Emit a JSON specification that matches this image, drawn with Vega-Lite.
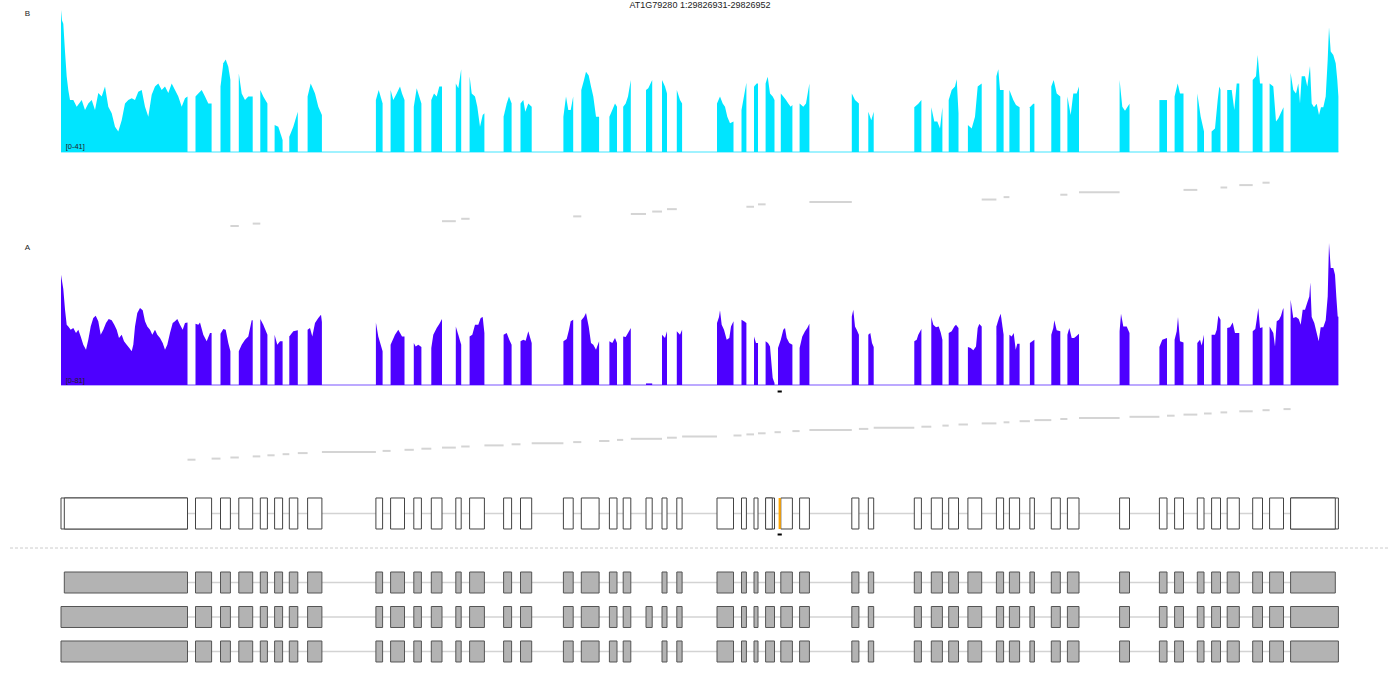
{
"$schema":"https://vega.github.io/schema/vega-lite/v6.json",
"padding":0,"spacing":0,"bounds":"flush","background":"white",
"config":{"view":{"stroke":null},"axis":{"disable":true},"legend":{"disable":true}},
"resolve":{"scale":{"x":"independent","y":"independent"}},
"datasets":{
"covB":[
{"ex":1,"pos":610,"cov":41},{"ex":1,"pos":620,"cov":38},{"ex":1,"pos":633,"cov":37},{"ex":1,"pos":650,"cov":29},{"ex":1,"pos":667,"cov":21.8},{"ex":1,"pos":683,"cov":17.9},{"ex":1,"pos":700,"cov":15},{"ex":1,"pos":733,"cov":15},{"ex":1,"pos":767,"cov":13.1},{"ex":1,"pos":817,"cov":15},{"ex":1,"pos":850,"cov":12.1},{"ex":1,"pos":883,"cov":14},{"ex":1,"pos":917,"cov":15},{"ex":1,"pos":950,"cov":12.1},{"ex":1,"pos":983,"cov":17},{"ex":1,"pos":1017,"cov":16},{"ex":1,"pos":1050,"cov":18.9},{"ex":1,"pos":1083,"cov":13.1},{"ex":1,"pos":1117,"cov":11.2},{"ex":1,"pos":1150,"cov":7.3},{"ex":1,"pos":1183,"cov":5.9},{"ex":1,"pos":1217,"cov":9.2},{"ex":1,"pos":1250,"cov":14},{"ex":1,"pos":1283,"cov":15},{"ex":1,"pos":1317,"cov":15.5},{"ex":1,"pos":1350,"cov":15},{"ex":1,"pos":1383,"cov":17.4},{"ex":1,"pos":1417,"cov":17.9},{"ex":1,"pos":1450,"cov":13.1},{"ex":1,"pos":1483,"cov":10.2},{"ex":1,"pos":1517,"cov":16.5},{"ex":1,"pos":1550,"cov":18.9},{"ex":1,"pos":1583,"cov":19.8},{"ex":1,"pos":1617,"cov":17.9},{"ex":1,"pos":1650,"cov":18.9},{"ex":1,"pos":1683,"cov":17},{"ex":1,"pos":1717,"cov":19.8},{"ex":1,"pos":1750,"cov":17.9},{"ex":1,"pos":1783,"cov":16},{"ex":1,"pos":1817,"cov":13.1},{"ex":1,"pos":1850,"cov":15.5},{"ex":1,"pos":1875,"cov":16},
{"ex":2,"pos":1955,"cov":16},{"ex":2,"pos":1983,"cov":16.9},{"ex":2,"pos":2017,"cov":17.9},{"ex":2,"pos":2050,"cov":16},{"ex":2,"pos":2083,"cov":14},{"ex":2,"pos":2116,"cov":14},
{"ex":3,"pos":2205,"cov":18.9},{"ex":3,"pos":2233,"cov":25.6},{"ex":3,"pos":2257,"cov":26.7},{"ex":3,"pos":2283,"cov":24.6},{"ex":3,"pos":2304,"cov":20.8},
{"ex":4,"pos":2388,"cov":22.7},{"ex":4,"pos":2417,"cov":16.9},{"ex":4,"pos":2450,"cov":15},{"ex":4,"pos":2483,"cov":16},{"ex":4,"pos":2527,"cov":16},
{"ex":5,"pos":2603,"cov":17.9},{"ex":5,"pos":2633,"cov":16},{"ex":5,"pos":2674,"cov":14},
{"ex":6,"pos":2746,"cov":7.8},{"ex":6,"pos":2783,"cov":7.3},{"ex":6,"pos":2826,"cov":3.5},
{"ex":7,"pos":2893,"cov":4.4},{"ex":7,"pos":2933,"cov":7.3},{"ex":7,"pos":2978,"cov":11.6},
{"ex":8,"pos":3076,"cov":16},{"ex":8,"pos":3107,"cov":19.8},{"ex":8,"pos":3150,"cov":16.9},{"ex":8,"pos":3183,"cov":13.1},{"ex":8,"pos":3219,"cov":10.7},
{"ex":9,"pos":3759,"cov":15},{"ex":9,"pos":3787,"cov":17.9},{"ex":9,"pos":3826,"cov":14},
{"ex":10,"pos":3906,"cov":17.9},{"ex":10,"pos":3933,"cov":15},{"ex":10,"pos":3967,"cov":16.9},{"ex":10,"pos":4000,"cov":18.9},{"ex":10,"pos":4020,"cov":16.9},{"ex":10,"pos":4045,"cov":15},
{"ex":11,"pos":4138,"cov":13.1},{"ex":11,"pos":4167,"cov":18.4},{"ex":11,"pos":4183,"cov":16.9},{"ex":11,"pos":4214,"cov":14},
{"ex":12,"pos":4313,"cov":15},{"ex":12,"pos":4340,"cov":16.9},{"ex":12,"pos":4367,"cov":16},{"ex":12,"pos":4393,"cov":18.9},{"ex":12,"pos":4420,"cov":18.9},
{"ex":13,"pos":4558,"cov":19.8},{"ex":13,"pos":4583,"cov":18.4},{"ex":13,"pos":4612,"cov":23.9},
{"ex":14,"pos":4696,"cov":21.9},{"ex":14,"pos":4717,"cov":16.9},{"ex":14,"pos":4750,"cov":16},{"ex":14,"pos":4773,"cov":13.1},{"ex":14,"pos":4800,"cov":7.3},{"ex":14,"pos":4827,"cov":10.7},{"ex":14,"pos":4844,"cov":11.2},
{"ex":15,"pos":5036,"cov":10.2},{"ex":15,"pos":5067,"cov":14},{"ex":15,"pos":5090,"cov":16},{"ex":15,"pos":5116,"cov":14},
{"ex":16,"pos":5205,"cov":14},{"ex":16,"pos":5233,"cov":15},{"ex":16,"pos":5253,"cov":11.6},{"ex":16,"pos":5283,"cov":14},{"ex":16,"pos":5317,"cov":13.1},
{"ex":17,"pos":5634,"cov":10.2},{"ex":17,"pos":5660,"cov":16},{"ex":17,"pos":5683,"cov":12.1},{"ex":17,"pos":5707,"cov":12.1},{"ex":17,"pos":5732,"cov":16},
{"ex":18,"pos":5813,"cov":17.9},{"ex":18,"pos":5840,"cov":20.8},{"ex":18,"pos":5860,"cov":23.2},{"ex":18,"pos":5887,"cov":22.1},{"ex":18,"pos":5910,"cov":18.9},{"ex":18,"pos":5933,"cov":16},{"ex":18,"pos":5960,"cov":10.2},{"ex":18,"pos":5991,"cov":10.2},
{"ex":19,"pos":6094,"cov":10.2},{"ex":19,"pos":6123,"cov":12.1},{"ex":19,"pos":6150,"cov":14},{"ex":19,"pos":6170,"cov":13.1},
{"ex":20,"pos":6232,"cov":13.1},{"ex":20,"pos":6257,"cov":14},{"ex":20,"pos":6280,"cov":16},{"ex":20,"pos":6308,"cov":20.8},
{"ex":21,"pos":6460,"cov":17.9},{"ex":21,"pos":6483,"cov":18.4},{"ex":21,"pos":6522,"cov":20.8},
{"ex":22,"pos":6620,"cov":20.8},{"ex":22,"pos":6650,"cov":18.9},{"ex":22,"pos":6670,"cov":16.9},
{"ex":23,"pos":6768,"cov":17.9},{"ex":23,"pos":6800,"cov":15},{"ex":23,"pos":6821,"cov":14},
{"ex":24,"pos":7170,"cov":14},{"ex":24,"pos":7200,"cov":16},{"ex":24,"pos":7227,"cov":14},{"ex":24,"pos":7250,"cov":13.1},{"ex":24,"pos":7273,"cov":10.2},{"ex":24,"pos":7300,"cov":8.3},{"ex":24,"pos":7335,"cov":8.8},
{"ex":25,"pos":7415,"cov":12.1},{"ex":25,"pos":7433,"cov":15},{"ex":25,"pos":7464,"cov":20},
{"ex":26,"pos":7540,"cov":18.9},{"ex":26,"pos":7567,"cov":19.8},{"ex":26,"pos":7580,"cov":19.8},
{"ex":27,"pos":7656,"cov":19.8},{"ex":27,"pos":7677,"cov":21.7},{"ex":27,"pos":7700,"cov":16.9},{"ex":27,"pos":7727,"cov":16},{"ex":27,"pos":7745,"cov":15},
{"ex":28,"pos":7808,"cov":16.9},{"ex":28,"pos":7833,"cov":16},{"ex":28,"pos":7860,"cov":15},{"ex":28,"pos":7883,"cov":14},{"ex":28,"pos":7907,"cov":13.1},{"ex":28,"pos":7924,"cov":13.6},
{"ex":29,"pos":7996,"cov":14},{"ex":29,"pos":8033,"cov":13.1},{"ex":29,"pos":8060,"cov":14},{"ex":29,"pos":8094,"cov":19.8},
{"ex":30,"pos":8518,"cov":16.9},{"ex":30,"pos":8550,"cov":15},{"ex":30,"pos":8589,"cov":14},
{"ex":31,"pos":8683,"cov":11.6},{"ex":31,"pos":8713,"cov":9.2},{"ex":31,"pos":8737,"cov":11.6},
{"ex":32,"pos":9143,"cov":12.9},{"ex":32,"pos":9183,"cov":13.9},{"ex":32,"pos":9214,"cov":15},
{"ex":33,"pos":9313,"cov":12.9},{"ex":33,"pos":9343,"cov":8.8},{"ex":33,"pos":9373,"cov":8.8},{"ex":33,"pos":9400,"cov":6.8},{"ex":33,"pos":9424,"cov":12.9},
{"ex":34,"pos":9487,"cov":15},{"ex":34,"pos":9517,"cov":17.9},{"ex":34,"pos":9550,"cov":18.9},{"ex":34,"pos":9567,"cov":21},{"ex":34,"pos":9585,"cov":11.2},
{"ex":35,"pos":9679,"cov":7.8},{"ex":35,"pos":9717,"cov":6.8},{"ex":35,"pos":9750,"cov":10.2},{"ex":35,"pos":9777,"cov":18.9},{"ex":35,"pos":9817,"cov":19.8},
{"ex":36,"pos":9964,"cov":21.9},{"ex":36,"pos":9983,"cov":23.9},{"ex":36,"pos":10000,"cov":17.9},{"ex":36,"pos":10036,"cov":17.9},
{"ex":37,"pos":10094,"cov":17.9},{"ex":37,"pos":10133,"cov":15},{"ex":37,"pos":10160,"cov":13.6},{"ex":37,"pos":10196,"cov":12.9},
{"ex":38,"pos":10299,"cov":12.9},{"ex":38,"pos":10333,"cov":13.9},{"ex":38,"pos":10344,"cov":13.9},
{"ex":39,"pos":10513,"cov":18.9},{"ex":39,"pos":10537,"cov":20.8},{"ex":39,"pos":10567,"cov":16.9},{"ex":39,"pos":10603,"cov":16},
{"ex":40,"pos":10674,"cov":16},{"ex":40,"pos":10707,"cov":10.7},{"ex":40,"pos":10733,"cov":16.9},{"ex":40,"pos":10767,"cov":16.9},{"ex":40,"pos":10790,"cov":18.9},
{"ex":41,"pos":11196,"cov":20.8},{"ex":41,"pos":11223,"cov":13.1},{"ex":41,"pos":11250,"cov":11.9},{"ex":41,"pos":11295,"cov":13.9},
{"ex":42,"pos":11594,"cov":15},{"ex":42,"pos":11630,"cov":15},{"ex":42,"pos":11670,"cov":15},
{"ex":43,"pos":11746,"cov":16},{"ex":43,"pos":11777,"cov":19.8},{"ex":43,"pos":11800,"cov":16.9},{"ex":43,"pos":11835,"cov":16.9},
{"ex":44,"pos":11973,"cov":16.9},{"ex":44,"pos":12007,"cov":10.2},{"ex":44,"pos":12040,"cov":5.9},
{"ex":45,"pos":12116,"cov":5.9},{"ex":45,"pos":12150,"cov":6.8},{"ex":45,"pos":12177,"cov":15},{"ex":45,"pos":12193,"cov":18.9},{"ex":45,"pos":12205,"cov":18},
{"ex":46,"pos":12272,"cov":17.9},{"ex":46,"pos":12317,"cov":17.9},{"ex":46,"pos":12343,"cov":12.1},{"ex":46,"pos":12367,"cov":19.8},{"ex":46,"pos":12393,"cov":19.8},
{"ex":47,"pos":12527,"cov":20.8},{"ex":47,"pos":12560,"cov":21.9},{"ex":47,"pos":12577,"cov":28},{"ex":47,"pos":12600,"cov":19.8},{"ex":47,"pos":12625,"cov":19.8},
{"ex":48,"pos":12696,"cov":19.8},{"ex":48,"pos":12733,"cov":18.9},{"ex":48,"pos":12760,"cov":8.8},{"ex":48,"pos":12783,"cov":9.7},{"ex":48,"pos":12807,"cov":11.2},{"ex":48,"pos":12835,"cov":12.9},
{"ex":49,"pos":12906,"cov":22.9},{"ex":49,"pos":12933,"cov":17.9},{"ex":49,"pos":12960,"cov":16.9},{"ex":49,"pos":12983,"cov":19.8},{"ex":49,"pos":13000,"cov":14},{"ex":49,"pos":13017,"cov":21.9},{"ex":49,"pos":13050,"cov":21.9},{"ex":49,"pos":13073,"cov":18.9},{"ex":49,"pos":13100,"cov":24.8},{"ex":49,"pos":13117,"cov":14},{"ex":49,"pos":13140,"cov":12.9},{"ex":49,"pos":13167,"cov":13.9},{"ex":49,"pos":13190,"cov":10.7},{"ex":49,"pos":13210,"cov":12.9},{"ex":49,"pos":13233,"cov":12.9},{"ex":49,"pos":13257,"cov":16},{"ex":49,"pos":13277,"cov":26.6},{"ex":49,"pos":13290,"cov":36},{"ex":49,"pos":13307,"cov":29},{"ex":49,"pos":13333,"cov":28},{"ex":49,"pos":13357,"cov":25.6},{"ex":49,"pos":13373,"cov":20.8},{"ex":49,"pos":13384,"cov":16}
],
"covA":[
{"ex":1,"pos":610,"cov":62.9},{"ex":1,"pos":633,"cov":54.7},{"ex":1,"pos":650,"cov":43},{"ex":1,"pos":667,"cov":34.4},{"ex":1,"pos":683,"cov":33.4},{"ex":1,"pos":707,"cov":31.5},{"ex":1,"pos":733,"cov":32.5},{"ex":1,"pos":760,"cov":29.6},{"ex":1,"pos":783,"cov":31.5},{"ex":1,"pos":807,"cov":27.7},{"ex":1,"pos":833,"cov":23},{"ex":1,"pos":860,"cov":20.1},{"ex":1,"pos":883,"cov":25.8},{"ex":1,"pos":907,"cov":33.4},{"ex":1,"pos":933,"cov":38.2},{"ex":1,"pos":957,"cov":39.5},{"ex":1,"pos":983,"cov":36.3},{"ex":1,"pos":1007,"cov":28.7},{"ex":1,"pos":1033,"cov":31.5},{"ex":1,"pos":1060,"cov":35.3},{"ex":1,"pos":1087,"cov":37.6},{"ex":1,"pos":1117,"cov":36.9},{"ex":1,"pos":1143,"cov":34.4},{"ex":1,"pos":1167,"cov":31.5},{"ex":1,"pos":1190,"cov":26.8},{"ex":1,"pos":1217,"cov":28.7},{"ex":1,"pos":1240,"cov":24.9},{"ex":1,"pos":1267,"cov":23},{"ex":1,"pos":1293,"cov":21.1},{"ex":1,"pos":1317,"cov":19.2},{"ex":1,"pos":1333,"cov":23},{"ex":1,"pos":1350,"cov":33.4},{"ex":1,"pos":1373,"cov":41},{"ex":1,"pos":1400,"cov":43.9},{"ex":1,"pos":1427,"cov":42.6},{"ex":1,"pos":1450,"cov":36.3},{"ex":1,"pos":1473,"cov":33.4},{"ex":1,"pos":1500,"cov":31.5},{"ex":1,"pos":1523,"cov":28.7},{"ex":1,"pos":1550,"cov":31.5},{"ex":1,"pos":1573,"cov":28.7},{"ex":1,"pos":1600,"cov":26.8},{"ex":1,"pos":1627,"cov":23.9},{"ex":1,"pos":1650,"cov":20.1},{"ex":1,"pos":1673,"cov":23},{"ex":1,"pos":1700,"cov":29.6},{"ex":1,"pos":1727,"cov":35.3},{"ex":1,"pos":1750,"cov":36.3},{"ex":1,"pos":1773,"cov":37.6},{"ex":1,"pos":1800,"cov":34.4},{"ex":1,"pos":1827,"cov":31.5},{"ex":1,"pos":1850,"cov":35.3},{"ex":1,"pos":1875,"cov":35.7},
{"ex":2,"pos":1955,"cov":35},{"ex":2,"pos":1983,"cov":34.4},{"ex":2,"pos":2000,"cov":35.7},{"ex":2,"pos":2033,"cov":28.7},{"ex":2,"pos":2067,"cov":24.9},{"ex":2,"pos":2100,"cov":29.6},{"ex":2,"pos":2116,"cov":29.6},
{"ex":3,"pos":2205,"cov":29.3},{"ex":3,"pos":2233,"cov":31.9},{"ex":3,"pos":2257,"cov":31.5},{"ex":3,"pos":2283,"cov":23.9},{"ex":3,"pos":2304,"cov":19.2},
{"ex":4,"pos":2388,"cov":19.2},{"ex":4,"pos":2417,"cov":23},{"ex":4,"pos":2450,"cov":25.8},{"ex":4,"pos":2483,"cov":27.7},{"ex":4,"pos":2517,"cov":36.9},{"ex":4,"pos":2527,"cov":36.9},
{"ex":5,"pos":2603,"cov":37.6},{"ex":5,"pos":2633,"cov":34.4},{"ex":5,"pos":2674,"cov":28.7},
{"ex":6,"pos":2746,"cov":28.7},{"ex":6,"pos":2773,"cov":23},{"ex":6,"pos":2800,"cov":24.9},{"ex":6,"pos":2826,"cov":24.9},
{"ex":7,"pos":2893,"cov":27.7},{"ex":7,"pos":2933,"cov":30.6},{"ex":7,"pos":2978,"cov":31.2},
{"ex":8,"pos":3076,"cov":31.5},{"ex":8,"pos":3100,"cov":32.5},{"ex":8,"pos":3123,"cov":27.7},{"ex":8,"pos":3150,"cov":35.3},{"ex":8,"pos":3183,"cov":38.2},{"ex":8,"pos":3210,"cov":40.1},{"ex":8,"pos":3219,"cov":36},
{"ex":9,"pos":3759,"cov":35.7},{"ex":9,"pos":3783,"cov":27.7},{"ex":9,"pos":3826,"cov":19.2},
{"ex":10,"pos":3906,"cov":23},{"ex":10,"pos":3950,"cov":28.7},{"ex":10,"pos":3983,"cov":31.5},{"ex":10,"pos":4020,"cov":27.7},{"ex":10,"pos":4045,"cov":27.7},
{"ex":11,"pos":4138,"cov":23.9},{"ex":11,"pos":4157,"cov":22},{"ex":11,"pos":4183,"cov":23},{"ex":11,"pos":4214,"cov":21.7},
{"ex":12,"pos":4313,"cov":21.1},{"ex":12,"pos":4333,"cov":28.7},{"ex":12,"pos":4367,"cov":32.5},{"ex":12,"pos":4393,"cov":34.8},{"ex":12,"pos":4420,"cov":37.6},
{"ex":13,"pos":4558,"cov":33.4},{"ex":13,"pos":4583,"cov":28.7},{"ex":13,"pos":4612,"cov":23},
{"ex":14,"pos":4696,"cov":27.7},{"ex":14,"pos":4723,"cov":28.7},{"ex":14,"pos":4750,"cov":34.4},{"ex":14,"pos":4783,"cov":34.4},{"ex":14,"pos":4807,"cov":38.2},{"ex":14,"pos":4827,"cov":38.8},{"ex":14,"pos":4844,"cov":29.6},
{"ex":15,"pos":5036,"cov":28.7},{"ex":15,"pos":5067,"cov":29.6},{"ex":15,"pos":5093,"cov":25.8},{"ex":15,"pos":5116,"cov":23},
{"ex":16,"pos":5205,"cov":24.9},{"ex":16,"pos":5233,"cov":25.8},{"ex":16,"pos":5257,"cov":25.2},{"ex":16,"pos":5283,"cov":30.6},{"ex":16,"pos":5317,"cov":23.9},
{"ex":17,"pos":5634,"cov":24.9},{"ex":17,"pos":5667,"cov":26.2},{"ex":17,"pos":5690,"cov":31.5},{"ex":17,"pos":5707,"cov":36.3},{"ex":17,"pos":5732,"cov":37.2},
{"ex":18,"pos":5813,"cov":36.9},{"ex":18,"pos":5840,"cov":38.8},{"ex":18,"pos":5860,"cov":41},{"ex":18,"pos":5887,"cov":33.4},{"ex":18,"pos":5910,"cov":23.9},{"ex":18,"pos":5933,"cov":23},{"ex":18,"pos":5960,"cov":20.1},{"ex":18,"pos":5991,"cov":24.9},
{"ex":19,"pos":6094,"cov":24.9},{"ex":19,"pos":6123,"cov":23.9},{"ex":19,"pos":6150,"cov":26.8},{"ex":19,"pos":6170,"cov":23.9},
{"ex":20,"pos":6232,"cov":27.7},{"ex":20,"pos":6257,"cov":27.4},{"ex":20,"pos":6280,"cov":29.6},{"ex":20,"pos":6308,"cov":32.5},
{"ex":21,"pos":6460,"cov":0.9},{"ex":21,"pos":6522,"cov":0.9},
{"ex":22,"pos":6620,"cov":28.7},{"ex":22,"pos":6650,"cov":26.8},{"ex":22,"pos":6670,"cov":30.6},
{"ex":23,"pos":6768,"cov":30.6},{"ex":23,"pos":6800,"cov":28.7},{"ex":23,"pos":6821,"cov":31.5},
{"ex":24,"pos":7170,"cov":35.3},{"ex":24,"pos":7190,"cov":38.8},{"ex":24,"pos":7200,"cov":42.6},{"ex":24,"pos":7217,"cov":34.4},{"ex":24,"pos":7240,"cov":31.5},{"ex":24,"pos":7267,"cov":25.8},{"ex":24,"pos":7293,"cov":26.8},{"ex":24,"pos":7310,"cov":33.4},{"ex":24,"pos":7335,"cov":36.3},
{"ex":25,"pos":7415,"cov":37.2},{"ex":25,"pos":7440,"cov":36.3},{"ex":25,"pos":7464,"cov":35.3},
{"ex":26,"pos":7540,"cov":27.7},{"ex":26,"pos":7560,"cov":23.9},{"ex":26,"pos":7580,"cov":23.9},
{"ex":27,"pos":7656,"cov":24.9},{"ex":27,"pos":7680,"cov":23.9},{"ex":27,"pos":7700,"cov":22},{"ex":27,"pos":7727,"cov":4},{"ex":27,"pos":7745,"cov":1.1},
{"ex":28,"pos":7780,"cov":21.1},{"ex":28,"pos":7808,"cov":25.8},{"ex":28,"pos":7833,"cov":31.5},{"ex":28,"pos":7850,"cov":32.5},{"ex":28,"pos":7867,"cov":26.8},{"ex":28,"pos":7893,"cov":23.9},{"ex":28,"pos":7924,"cov":23},
{"ex":29,"pos":7996,"cov":21.1},{"ex":29,"pos":8023,"cov":27.7},{"ex":29,"pos":8050,"cov":30.6},{"ex":29,"pos":8073,"cov":32.5},{"ex":29,"pos":8094,"cov":35},
{"ex":30,"pos":8518,"cov":39.1},{"ex":30,"pos":8533,"cov":42.9},{"ex":30,"pos":8550,"cov":33.4},{"ex":30,"pos":8567,"cov":31.5},{"ex":30,"pos":8589,"cov":28.7},
{"ex":31,"pos":8683,"cov":28.7},{"ex":31,"pos":8703,"cov":29.6},{"ex":31,"pos":8720,"cov":23.9},{"ex":31,"pos":8737,"cov":21.7},
{"ex":32,"pos":9143,"cov":24.9},{"ex":32,"pos":9167,"cov":25.8},{"ex":32,"pos":9183,"cov":28.7},{"ex":32,"pos":9214,"cov":31.9},
{"ex":33,"pos":9313,"cov":38.8},{"ex":33,"pos":9333,"cov":34.4},{"ex":33,"pos":9360,"cov":33},{"ex":33,"pos":9387,"cov":33.4},{"ex":33,"pos":9407,"cov":30},{"ex":33,"pos":9424,"cov":25.8},
{"ex":34,"pos":9487,"cov":29.6},{"ex":34,"pos":9517,"cov":30.6},{"ex":34,"pos":9543,"cov":33.4},{"ex":34,"pos":9560,"cov":34.4},{"ex":34,"pos":9585,"cov":32.5},
{"ex":35,"pos":9679,"cov":21.7},{"ex":35,"pos":9707,"cov":21.1},{"ex":35,"pos":9733,"cov":19.8},{"ex":35,"pos":9760,"cov":22},{"ex":35,"pos":9777,"cov":32.5},{"ex":35,"pos":9793,"cov":34.8},{"ex":35,"pos":9817,"cov":33.4},
{"ex":36,"pos":9964,"cov":33.4},{"ex":36,"pos":9990,"cov":38.2},{"ex":36,"pos":10007,"cov":40.7},{"ex":36,"pos":10036,"cov":28.7},
{"ex":37,"pos":10094,"cov":28.7},{"ex":37,"pos":10117,"cov":27.7},{"ex":37,"pos":10137,"cov":29.6},{"ex":37,"pos":10157,"cov":20.1},{"ex":37,"pos":10173,"cov":23.6},{"ex":37,"pos":10196,"cov":23.6},
{"ex":38,"pos":10299,"cov":23.9},{"ex":38,"pos":10323,"cov":24.9},{"ex":38,"pos":10344,"cov":25.8},
{"ex":39,"pos":10513,"cov":28.7},{"ex":39,"pos":10533,"cov":32.5},{"ex":39,"pos":10543,"cov":36.9},{"ex":39,"pos":10567,"cov":31.2},{"ex":39,"pos":10603,"cov":30.6},
{"ex":40,"pos":10674,"cov":28.7},{"ex":40,"pos":10693,"cov":32.5},{"ex":40,"pos":10717,"cov":26.8},{"ex":40,"pos":10740,"cov":26.8},{"ex":40,"pos":10760,"cov":27.7},{"ex":40,"pos":10790,"cov":29.3},
{"ex":41,"pos":11196,"cov":30.6},{"ex":41,"pos":11210,"cov":40.7},{"ex":41,"pos":11233,"cov":33.4},{"ex":41,"pos":11267,"cov":33.4},{"ex":41,"pos":11295,"cov":29.6},
{"ex":42,"pos":11594,"cov":21.7},{"ex":42,"pos":11623,"cov":25.8},{"ex":42,"pos":11670,"cov":26.8},
{"ex":43,"pos":11746,"cov":25.8},{"ex":43,"pos":11767,"cov":30.6},{"ex":43,"pos":11780,"cov":38.8},{"ex":43,"pos":11800,"cov":24.9},{"ex":43,"pos":11835,"cov":24.3},
{"ex":44,"pos":11973,"cov":23.9},{"ex":44,"pos":12000,"cov":25.8},{"ex":44,"pos":12017,"cov":22.6},{"ex":44,"pos":12040,"cov":28.7},
{"ex":45,"pos":12116,"cov":28.7},{"ex":45,"pos":12150,"cov":28.7},{"ex":45,"pos":12167,"cov":31.5},{"ex":45,"pos":12183,"cov":39.5},{"ex":45,"pos":12205,"cov":37.2},
{"ex":46,"pos":12272,"cov":32.5},{"ex":46,"pos":12300,"cov":33},{"ex":46,"pos":12327,"cov":35.7},{"ex":46,"pos":12350,"cov":29.6},{"ex":46,"pos":12393,"cov":29.6},
{"ex":47,"pos":12527,"cov":30.6},{"ex":47,"pos":12553,"cov":31.9},{"ex":47,"pos":12567,"cov":37.2},{"ex":47,"pos":12583,"cov":43.9},{"ex":47,"pos":12600,"cov":32.5},{"ex":47,"pos":12625,"cov":33},
{"ex":48,"pos":12696,"cov":33.4},{"ex":48,"pos":12733,"cov":29.6},{"ex":48,"pos":12750,"cov":22},{"ex":48,"pos":12767,"cov":36.3},{"ex":48,"pos":12790,"cov":37.2},{"ex":48,"pos":12810,"cov":39.5},{"ex":48,"pos":12827,"cov":42.9},{"ex":48,"pos":12835,"cov":43.9},
{"ex":49,"pos":12906,"cov":48.6},{"ex":49,"pos":12933,"cov":38.2},{"ex":49,"pos":12960,"cov":38.8},{"ex":49,"pos":12987,"cov":37.6},{"ex":49,"pos":13007,"cov":34.4},{"ex":49,"pos":13027,"cov":42.9},{"ex":49,"pos":13050,"cov":42.9},{"ex":49,"pos":13073,"cov":47.1},{"ex":49,"pos":13093,"cov":50.5},{"ex":49,"pos":13103,"cov":58.5},{"ex":49,"pos":13117,"cov":38.8},{"ex":49,"pos":13143,"cov":35.3},{"ex":49,"pos":13167,"cov":29.6},{"ex":49,"pos":13187,"cov":24.9},{"ex":49,"pos":13207,"cov":33},{"ex":49,"pos":13233,"cov":33},{"ex":49,"pos":13257,"cov":36.9},{"ex":49,"pos":13277,"cov":50.5},{"ex":49,"pos":13290,"cov":81},{"ex":49,"pos":13307,"cov":66.7},{"ex":49,"pos":13333,"cov":66.7},{"ex":49,"pos":13350,"cov":62.9},{"ex":49,"pos":13363,"cov":50.5},{"ex":49,"pos":13377,"cov":39.1},{"ex":49,"pos":13384,"cov":39}
],
"jB":[
{"row":1,"s":2304,"e":2388},{"row":2,"s":2527,"e":2603},{"row":3,"s":4420,"e":4558},{"row":4,"s":4612,"e":4696},{"row":5,"s":5732,"e":5813},{"row":6,"s":6308,"e":6460},{"row":7,"s":6522,"e":6620},{"row":8,"s":6670,"e":6768},{"row":9,"s":7464,"e":7540},{"row":10,"s":7580,"e":7656},{"row":11,"s":8094,"e":8518},{"row":12,"s":9817,"e":9964},{"row":13,"s":10036,"e":10094},{"row":14,"s":10603,"e":10674},{"row":15,"s":10790,"e":11196},{"row":16,"s":11835,"e":11973},{"row":17,"s":12205,"e":12272},{"row":18,"s":12393,"e":12527},{"row":19,"s":12625,"e":12696}
],
"jA":[
{"row":1,"s":1875,"e":1955},{"row":2,"s":2116,"e":2205},{"row":3,"s":2304,"e":2388},{"row":4,"s":2527,"e":2603},{"row":5,"s":2674,"e":2746},{"row":6,"s":2826,"e":2893},{"row":7,"s":2978,"e":3076},{"row":8,"s":3219,"e":3759},{"row":9,"s":3826,"e":3906},{"row":10,"s":4045,"e":4138},{"row":11,"s":4214,"e":4313},{"row":12,"s":4420,"e":4558},{"row":13,"s":4612,"e":4696},{"row":14,"s":4844,"e":5036},{"row":15,"s":5116,"e":5205},{"row":16,"s":5317,"e":5634},{"row":17,"s":5732,"e":5813},{"row":18,"s":5991,"e":6094},{"row":19,"s":6170,"e":6232},{"row":20,"s":6308,"e":6620},{"row":21,"s":6670,"e":6768},{"row":22,"s":6821,"e":7170},{"row":23,"s":7335,"e":7415},{"row":24,"s":7464,"e":7540},{"row":25,"s":7580,"e":7656},{"row":26,"s":7745,"e":7808},{"row":27,"s":7924,"e":7996},{"row":28,"s":8094,"e":8518},{"row":29,"s":8589,"e":8683},{"row":30,"s":8737,"e":9143},{"row":31,"s":9214,"e":9313},{"row":32,"s":9424,"e":9487},{"row":33,"s":9585,"e":9679},{"row":34,"s":9817,"e":9964},{"row":35,"s":10036,"e":10094},{"row":36,"s":10196,"e":10299},{"row":37,"s":10344,"e":10513},{"row":38,"s":10603,"e":10674},{"row":39,"s":10790,"e":11196},{"row":40,"s":11295,"e":11594},{"row":41,"s":11670,"e":11746},{"row":42,"s":11835,"e":11973},{"row":43,"s":12040,"e":12116},{"row":44,"s":12205,"e":12272},{"row":45,"s":12393,"e":12527},{"row":46,"s":12625,"e":12696},{"row":47,"s":12835,"e":12906}
],
"gene":[
{"s":610,"e":1875},{"s":643,"e":1875},{"s":1955,"e":2116},{"s":2205,"e":2304},{"s":2388,"e":2527},{"s":2603,"e":2674},{"s":2746,"e":2826},{"s":2893,"e":2978},{"s":3076,"e":3219},{"s":3759,"e":3826},{"s":3906,"e":4045},{"s":4138,"e":4214},{"s":4313,"e":4420},{"s":4558,"e":4612},{"s":4696,"e":4844},{"s":5036,"e":5116},{"s":5205,"e":5317},{"s":5634,"e":5732},{"s":5813,"e":5991},{"s":6094,"e":6170},{"s":6232,"e":6308},{"s":6460,"e":6522},{"s":6620,"e":6670},{"s":6768,"e":6821},{"s":7170,"e":7335},{"s":7415,"e":7464},{"s":7540,"e":7580},{"s":7656,"e":7745},{"s":7656,"e":7723},{"s":7808,"e":7924},{"s":7996,"e":8094},{"s":8518,"e":8589},{"s":8683,"e":8737},{"s":9143,"e":9214},{"s":9313,"e":9424},{"s":9487,"e":9585},{"s":9679,"e":9817},{"s":9964,"e":10036},{"s":10094,"e":10196},{"s":10299,"e":10344},{"s":10513,"e":10603},{"s":10674,"e":10790},{"s":11196,"e":11295},{"s":11594,"e":11670},{"s":11746,"e":11835},{"s":11973,"e":12040},{"s":12116,"e":12205},{"s":12272,"e":12393},{"s":12527,"e":12625},{"s":12696,"e":12835},{"s":12906,"e":13384},{"s":12906,"e":13353}
],
"tx":[
{"tx":"t1","s":643,"e":1875},{"tx":"t1","s":1955,"e":2116},{"tx":"t1","s":2205,"e":2304},{"tx":"t1","s":2388,"e":2527},{"tx":"t1","s":2603,"e":2674},{"tx":"t1","s":2746,"e":2826},{"tx":"t1","s":2893,"e":2978},{"tx":"t1","s":3076,"e":3219},{"tx":"t1","s":3759,"e":3826},{"tx":"t1","s":3906,"e":4045},{"tx":"t1","s":4138,"e":4214},{"tx":"t1","s":4313,"e":4420},{"tx":"t1","s":4558,"e":4612},{"tx":"t1","s":4696,"e":4844},{"tx":"t1","s":5036,"e":5116},{"tx":"t1","s":5205,"e":5317},{"tx":"t1","s":5634,"e":5732},{"tx":"t1","s":5813,"e":5991},{"tx":"t1","s":6094,"e":6170},{"tx":"t1","s":6232,"e":6308},{"tx":"t1","s":6620,"e":6670},{"tx":"t1","s":6768,"e":6821},{"tx":"t1","s":7170,"e":7335},{"tx":"t1","s":7415,"e":7464},{"tx":"t1","s":7540,"e":7580},{"tx":"t1","s":7656,"e":7745},{"tx":"t1","s":7808,"e":7924},{"tx":"t1","s":7996,"e":8094},{"tx":"t1","s":8518,"e":8589},{"tx":"t1","s":8683,"e":8737},{"tx":"t1","s":9143,"e":9214},{"tx":"t1","s":9313,"e":9424},{"tx":"t1","s":9487,"e":9585},{"tx":"t1","s":9679,"e":9817},{"tx":"t1","s":9964,"e":10036},{"tx":"t1","s":10094,"e":10196},{"tx":"t1","s":10299,"e":10344},{"tx":"t1","s":10513,"e":10603},{"tx":"t1","s":10674,"e":10790},{"tx":"t1","s":11196,"e":11295},{"tx":"t1","s":11594,"e":11670},{"tx":"t1","s":11746,"e":11835},{"tx":"t1","s":11973,"e":12040},{"tx":"t1","s":12116,"e":12205},{"tx":"t1","s":12272,"e":12393},{"tx":"t1","s":12527,"e":12625},{"tx":"t1","s":12696,"e":12835},{"tx":"t1","s":12906,"e":13353},
{"tx":"t2","s":610,"e":1875},{"tx":"t2","s":1955,"e":2116},{"tx":"t2","s":2205,"e":2304},{"tx":"t2","s":2388,"e":2527},{"tx":"t2","s":2603,"e":2674},{"tx":"t2","s":2746,"e":2826},{"tx":"t2","s":2893,"e":2978},{"tx":"t2","s":3076,"e":3219},{"tx":"t2","s":3759,"e":3826},{"tx":"t2","s":3906,"e":4045},{"tx":"t2","s":4138,"e":4214},{"tx":"t2","s":4313,"e":4420},{"tx":"t2","s":4558,"e":4612},{"tx":"t2","s":4696,"e":4844},{"tx":"t2","s":5036,"e":5116},{"tx":"t2","s":5205,"e":5317},{"tx":"t2","s":5634,"e":5732},{"tx":"t2","s":5813,"e":5991},{"tx":"t2","s":6094,"e":6170},{"tx":"t2","s":6232,"e":6308},{"tx":"t2","s":6460,"e":6522},{"tx":"t2","s":6620,"e":6670},{"tx":"t2","s":6768,"e":6821},{"tx":"t2","s":7170,"e":7335},{"tx":"t2","s":7415,"e":7464},{"tx":"t2","s":7540,"e":7580},{"tx":"t2","s":7656,"e":7745},{"tx":"t2","s":7808,"e":7924},{"tx":"t2","s":7996,"e":8094},{"tx":"t2","s":8518,"e":8589},{"tx":"t2","s":8683,"e":8737},{"tx":"t2","s":9143,"e":9214},{"tx":"t2","s":9313,"e":9424},{"tx":"t2","s":9487,"e":9585},{"tx":"t2","s":9679,"e":9817},{"tx":"t2","s":9964,"e":10036},{"tx":"t2","s":10094,"e":10196},{"tx":"t2","s":10299,"e":10344},{"tx":"t2","s":10513,"e":10603},{"tx":"t2","s":10674,"e":10790},{"tx":"t2","s":11196,"e":11295},{"tx":"t2","s":11594,"e":11670},{"tx":"t2","s":11746,"e":11835},{"tx":"t2","s":11973,"e":12040},{"tx":"t2","s":12116,"e":12205},{"tx":"t2","s":12272,"e":12393},{"tx":"t2","s":12527,"e":12625},{"tx":"t2","s":12696,"e":12835},{"tx":"t2","s":12906,"e":13384},
{"tx":"t3","s":610,"e":1875},{"tx":"t3","s":1955,"e":2116},{"tx":"t3","s":2205,"e":2304},{"tx":"t3","s":2388,"e":2527},{"tx":"t3","s":2603,"e":2674},{"tx":"t3","s":2746,"e":2826},{"tx":"t3","s":2893,"e":2978},{"tx":"t3","s":3076,"e":3219},{"tx":"t3","s":3759,"e":3826},{"tx":"t3","s":3906,"e":4045},{"tx":"t3","s":4138,"e":4214},{"tx":"t3","s":4313,"e":4420},{"tx":"t3","s":4558,"e":4612},{"tx":"t3","s":4696,"e":4844},{"tx":"t3","s":5036,"e":5116},{"tx":"t3","s":5205,"e":5317},{"tx":"t3","s":5634,"e":5732},{"tx":"t3","s":5813,"e":5991},{"tx":"t3","s":6094,"e":6170},{"tx":"t3","s":6232,"e":6308},{"tx":"t3","s":6620,"e":6670},{"tx":"t3","s":6768,"e":6821},{"tx":"t3","s":7170,"e":7335},{"tx":"t3","s":7415,"e":7464},{"tx":"t3","s":7540,"e":7580},{"tx":"t3","s":7656,"e":7745},{"tx":"t3","s":7808,"e":7924},{"tx":"t3","s":7996,"e":8094},{"tx":"t3","s":8518,"e":8589},{"tx":"t3","s":8683,"e":8737},{"tx":"t3","s":9143,"e":9214},{"tx":"t3","s":9313,"e":9424},{"tx":"t3","s":9487,"e":9585},{"tx":"t3","s":9679,"e":9817},{"tx":"t3","s":9964,"e":10036},{"tx":"t3","s":10094,"e":10196},{"tx":"t3","s":10299,"e":10344},{"tx":"t3","s":10513,"e":10603},{"tx":"t3","s":10674,"e":10790},{"tx":"t3","s":11196,"e":11295},{"tx":"t3","s":11594,"e":11670},{"tx":"t3","s":11746,"e":11835},{"tx":"t3","s":11973,"e":12040},{"tx":"t3","s":12116,"e":12205},{"tx":"t3","s":12272,"e":12393},{"tx":"t3","s":12527,"e":12625},{"tx":"t3","s":12696,"e":12835},{"tx":"t3","s":12906,"e":13384}
],
"region":[{"s":7786,"e":7808}]
},
"vconcat":[
{"width":1400,"height":160,"layer":[
 {"data":{"name":"gene"},"mark":{"type":"rule","color":"#80eeff","strokeWidth":1.5},
  "encoding":{"x":{"aggregate":"min","field":"s","type":"quantitative","scale":{"domain":[0,14000],"nice":false,"zero":false}},"x2":{"aggregate":"max","field":"e"},"y":{"datum":0,"type":"quantitative","scale":{"domain":[-2.31,43.887],"nice":false,"zero":false}}}},
 {"data":{"name":"covB"},"mark":{"type":"area","color":"#00e5ff","interpolate":"linear"},
  "encoding":{"x":{"field":"pos","type":"quantitative","scale":{"domain":[0,14000],"nice":false,"zero":false}},"y":{"field":"cov","type":"quantitative","stack":null,"scale":{"domain":[-2.31,43.887],"nice":false,"zero":false}},"y2":{"datum":0},"detail":{"field":"ex","type":"nominal"}}},
 {"data":{"values":[{"t":"AT1G79280 1:29826931-29826952"}]},"mark":{"type":"text","font":"Liberation Sans","fontSize":9,"color":"#222222","align":"center","baseline":"middle"},
  "encoding":{"text":{"field":"t"},"x":{"datum":7000,"type":"quantitative","scale":{"domain":[0,14000],"nice":false,"zero":false}},"y":{"datum":42.53,"type":"quantitative","scale":{"domain":[-2.31,43.887],"nice":false,"zero":false}}}},
 {"data":{"values":[{"t":"B"}]},"mark":{"type":"text","font":"Liberation Sans","fontSize":8,"color":"#222222","align":"center","baseline":"middle"},
  "encoding":{"text":{"field":"t"},"x":{"datum":275,"type":"quantitative","scale":{"domain":[0,14000],"nice":false,"zero":false}},"y":{"datum":39.84,"type":"quantitative","scale":{"domain":[-2.31,43.887],"nice":false,"zero":false}}}},
 {"data":{"values":[{"t":"[0-41]"}]},"mark":{"type":"text","font":"Liberation Sans","fontSize":7.5,"color":"#222222","align":"left","baseline":"middle"},
  "encoding":{"text":{"field":"t"},"x":{"datum":657,"type":"quantitative","scale":{"domain":[0,14000],"nice":false,"zero":false}},"y":{"datum":1.53,"type":"quantitative","scale":{"domain":[-2.31,43.887],"nice":false,"zero":false}}}}
]},
{"width":1400,"height":75,"data":{"name":"jB"},"mark":{"type":"rule","color":"#d4d4d4","strokeWidth":2},
 "encoding":{"x":{"field":"s","type":"quantitative","scale":{"domain":[0,14000],"nice":false,"zero":false}},"x2":{"field":"e"},"y":{"field":"row","type":"quantitative","scale":{"domain":[-2.741,28.43],"nice":false,"zero":false}}}},
{"width":1400,"height":160,"layer":[
 {"data":{"name":"gene"},"mark":{"type":"rule","color":"#a68cff","strokeWidth":1.5},
  "encoding":{"x":{"aggregate":"min","field":"s","type":"quantitative","scale":{"domain":[0,14000],"nice":false,"zero":false}},"x2":{"aggregate":"max","field":"e"},"y":{"datum":0,"type":"quantitative","scale":{"domain":[-5.704,85.56],"nice":false,"zero":false}}}},
 {"data":{"name":"covA"},"mark":{"type":"area","color":"#4d00ff","interpolate":"linear"},
  "encoding":{"x":{"field":"pos","type":"quantitative","scale":{"domain":[0,14000],"nice":false,"zero":false}},"y":{"field":"cov","type":"quantitative","stack":null,"scale":{"domain":[-5.704,85.56],"nice":false,"zero":false}},"y2":{"datum":0},"detail":{"field":"ex","type":"nominal"}}},
 {"data":{"values":[{"t":"A"}]},"mark":{"type":"text","font":"Liberation Sans","fontSize":8,"color":"#222222","align":"center","baseline":"middle"},
  "encoding":{"text":{"field":"t"},"x":{"datum":275,"type":"quantitative","scale":{"domain":[0,14000],"nice":false,"zero":false}},"y":{"datum":77.97,"type":"quantitative","scale":{"domain":[-5.704,85.56],"nice":false,"zero":false}}}},
 {"data":{"values":[{"t":"[0-81]"}]},"mark":{"type":"text","font":"Liberation Sans","fontSize":7.5,"color":"#222222","align":"left","baseline":"middle"},
  "encoding":{"text":{"field":"t"},"x":{"datum":657,"type":"quantitative","scale":{"domain":[0,14000],"nice":false,"zero":false}},"y":{"datum":2.45,"type":"quantitative","scale":{"domain":[-5.704,85.56],"nice":false,"zero":false}}}},
 {"data":{"name":"region"},"mark":{"type":"rule","color":"#000000","strokeWidth":2,"strokeCap":"square"},
  "encoding":{"x":{"field":"s","type":"quantitative","scale":{"domain":[0,14000],"nice":false,"zero":false}},"x2":{"field":"e"},"y":{"datum":-3.71,"type":"quantitative","scale":{"domain":[-5.704,85.56],"nice":false,"zero":false}}}}
]},
{"width":1400,"height":80,"data":{"name":"jA"},"mark":{"type":"rule","color":"#d4d4d4","strokeWidth":2},
 "encoding":{"x":{"field":"s","type":"quantitative","scale":{"domain":[0,14000],"nice":false,"zero":false}},"x2":{"field":"e"},"y":{"field":"row","type":"quantitative","scale":{"domain":[-12.91,59.82],"nice":false,"zero":false}}}},
{"width":1400,"height":65,"layer":[
 {"data":{"name":"gene"},"mark":{"type":"rule","color":"#d3d3d3","strokeWidth":1.5},
  "encoding":{"x":{"aggregate":"min","field":"s","type":"quantitative","scale":{"domain":[0,14000],"nice":false,"zero":false}},"x2":{"aggregate":"max","field":"e"},"y":{"datum":0,"type":"quantitative","scale":{"domain":[-1.71,2.484],"nice":false,"zero":false}}}},
 {"data":{"name":"gene"},"mark":{"type":"rect","fill":"#ffffff","stroke":"#444444","strokeWidth":1},
  "encoding":{"x":{"field":"s","type":"quantitative","scale":{"domain":[0,14000],"nice":false,"zero":false}},"x2":{"field":"e"},"y":{"datum":1,"type":"quantitative","scale":{"domain":[-1.71,2.484],"nice":false,"zero":false}},"y2":{"datum":-1}}},
 {"data":{"name":"region"},"mark":{"type":"rect","fill":"#ffa500"},
  "encoding":{"x":{"field":"s","type":"quantitative","scale":{"domain":[0,14000],"nice":false,"zero":false}},"x2":{"field":"e"},"y":{"datum":1,"type":"quantitative","scale":{"domain":[-1.71,2.484],"nice":false,"zero":false}},"y2":{"datum":-1}}},
 {"data":{"name":"region"},"mark":{"type":"rule","color":"#000000","strokeWidth":2,"strokeCap":"square"},
  "encoding":{"x":{"field":"s","type":"quantitative","scale":{"domain":[0,14000],"nice":false,"zero":false}},"x2":{"field":"e"},"y":{"datum":-1.355,"type":"quantitative","scale":{"domain":[-1.71,2.484],"nice":false,"zero":false}}}}
]},
{"width":1400,"height":16,"data":{"values":[{"t":"sep"}]},"mark":{"type":"rule","color":"#cccccc","strokeWidth":1,"strokeDash":[3,2]},
 "encoding":{"x":{"datum":100,"type":"quantitative","scale":{"domain":[0,14000],"nice":false,"zero":false}},"x2":{"datum":13880},"y":{"datum":0,"type":"quantitative","scale":{"domain":[-1,1],"nice":false,"zero":false}}}},
{"width":1400,"height":122,"layer":[
 {"data":{"name":"tx"},"mark":{"type":"rule","color":"#d3d3d3","strokeWidth":1.5},
  "encoding":{"x":{"aggregate":"min","field":"s","type":"quantitative","scale":{"domain":[0,14000],"nice":false,"zero":false}},"x2":{"aggregate":"max","field":"e"},"y":{"field":"tx","type":"nominal","bandPosition":0.5,"scale":{"domain":["t1","t2","t3"],"paddingInner":0.3913,"paddingOuter":0.4638}}}},
 {"data":{"name":"tx"},"mark":{"type":"rect","fill":"#b3b3b3","stroke":"#555555","strokeWidth":1},
  "encoding":{"x":{"field":"s","type":"quantitative","scale":{"domain":[0,14000],"nice":false,"zero":false}},"x2":{"field":"e"},"y":{"field":"tx","type":"nominal","scale":{"domain":["t1","t2","t3"],"paddingInner":0.3913,"paddingOuter":0.4638}}}}
]}
]
}
